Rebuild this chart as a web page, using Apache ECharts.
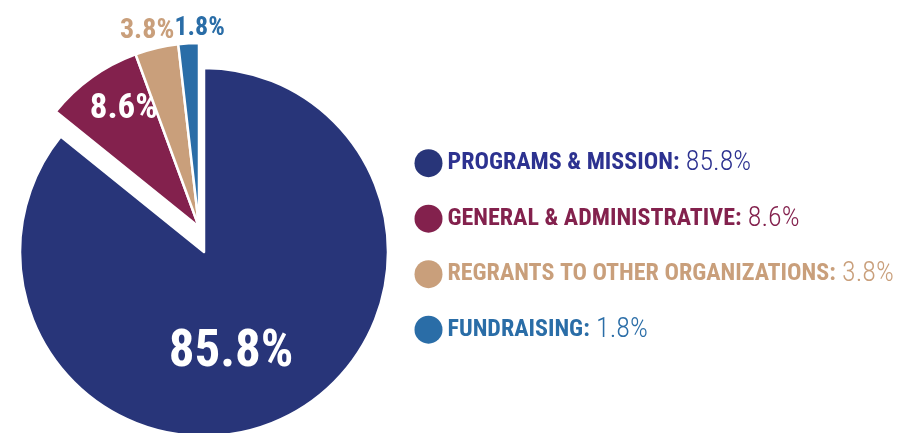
<!DOCTYPE html>
<html>
<head>
<meta charset="utf-8">
<script src="https://cdn.jsdelivr.net/npm/echarts@6/dist/echarts.min.js"></script>
<style>html,body{margin:0;padding:0;background:#fff;}#c{width:916px;height:433px;}</style>
</head>
<body>
<div id="c"></div>
<script>
var categories = ['PROGRAMS & MISSION', 'GENERAL & ADMINISTRATIVE', 'REGRANTS TO OTHER ORGANIZATIONS', 'FUNDRAISING'];
var values = [85.8, 8.6, 3.8, 1.8];
var valueLabels = ['85.8%', '8.6%', '3.8%', '1.8%'];
var sliceColors = ['#283579', '#83214d', '#c99f7b', '#2a6da7'];
var textColors = ['#2d3290', '#83214d', '#c99f7b', '#2a6da7'];

var FONT = '"Roboto Condensed", "Open Sans Condensed", "DejaVu Sans Condensed", sans-serif';
var chart = echarts.init(document.getElementById('c'), null, {renderer: 'canvas'});

var labelCfg = [
  {fontSize: 51, color: '#ffffff', offset: [-14, 16]},
  {fontSize: 35, color: '#ffffff', offset: [-20, -41]},
  {fontSize: 28, color: sliceColors[2], offset: [-30, -104]},
  {fontSize: 26, color: sliceColors[3], offset: [6, -104]}
];

function makeData(mainOnly) {
  return categories.map(function (c, i) {
    var visible = mainOnly ? i === 0 : i !== 0;
    var item = {name: c, value: values[i]};
    if (visible) {
      item.itemStyle = {color: sliceColors[i], borderColor: '#ffffff', borderWidth: 2.5};
      item.label = {
        show: true, position: 'inside', formatter: valueLabels[i],
        fontFamily: FONT, fontWeight: 'bold', fontSize: labelCfg[i].fontSize,
        color: labelCfg[i].color, offset: labelCfg[i].offset
      };
    } else {
      item.itemStyle = {color: 'rgba(0,0,0,0)', borderWidth: 0};
      item.label = {show: false};
    }
    return item;
  });
}

var rich = {};
categories.forEach(function (c, i) {
  rich['n' + i] = {color: textColors[i], fontFamily: FONT, fontWeight: 'bold', fontSize: 24, verticalAlign: 'middle'};
  rich['v' + i] = {color: textColors[i], fontFamily: FONT, fontWeight: 300, fontSize: 28, verticalAlign: 'middle'};
});

var option = {
  backgroundColor: '#ffffff',
  animation: false,
  legend: {
    orient: 'vertical',
    left: 414.5,
    top: 149.2,
    padding: 0,
    itemWidth: 28,
    itemHeight: 28,
    itemGap: 27.5,
    icon: 'circle',
    selectedMode: false,
    data: categories.map(function (c, i) {
      return {name: c, itemStyle: {color: sliceColors[i], borderWidth: 0}};
    }),
    formatter: function (name) {
      var i = categories.indexOf(name);
      return '{n' + i + '|' + name + ':}{v' + i + '| ' + valueLabels[i] + '}';
    },
    textStyle: {fontFamily: FONT, rich: rich}
  },
  series: [
    {
      type: 'pie',
      silent: true,
      center: [204, 252],
      radius: [0, 184],
      startAngle: 90,
      clockwise: true,
      avoidLabelOverlap: false,
      labelLayout: {hideOverlap: false},
      labelLine: {show: false},
      emphasis: {disabled: true},
      data: makeData(true)
    },
    {
      type: 'pie',
      silent: true,
      center: [199, 227],
      radius: [0, 184],
      startAngle: 90,
      clockwise: true,
      avoidLabelOverlap: false,
      labelLayout: {hideOverlap: false},
      labelLine: {show: false},
      emphasis: {disabled: true},
      data: makeData(false)
    }
  ]
};
chart.setOption(option);
</script>
</body>
</html>
